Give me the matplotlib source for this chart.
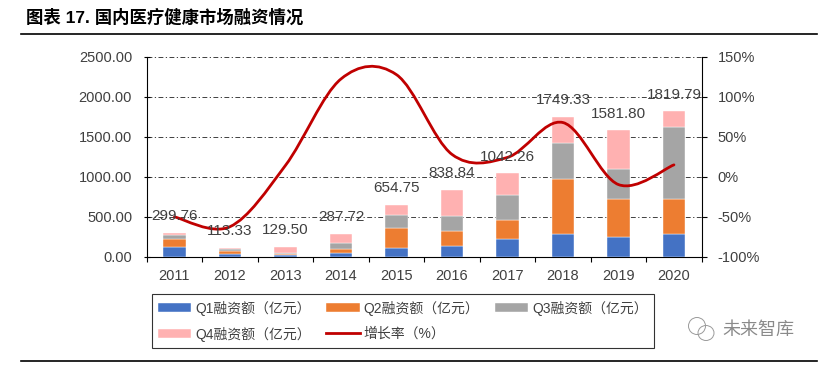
import matplotlib
matplotlib.use("Agg")
import matplotlib.pyplot as plt
import numpy as np
from matplotlib.path import Path
from matplotlib.patches import PathPatch, Ellipse
from matplotlib.lines import Line2D

plt.rcParams['font.family'] = ['Liberation Sans', 'Noto Sans CJK SC', 'DejaVu Sans']

years = ['2011', '2012', '2013', '2014', '2015', '2016', '2017', '2018', '2019', '2020']
q1 = [125, 40, 25, 46, 108, 142, 229, 283, 250, 292]
q2 = [95, 33, 8, 50, 259, 183, 238, 696, 475, 433]
q3 = [58, 25, 13, 83, 162, 183, 308, 450, 379, 892]
totals = [299.76, 113.33, 129.50, 287.72, 654.75, 838.84, 1042.26, 1749.33, 1581.80, 1819.79]
q4 = [round(t - a - b - c, 2) for t, a, b, c in zip(totals, q1, q2, q3)]
growth = [-50.0, -62.2, 14.3, 122.2, 127.6, 28.1, 24.3, 67.8, -9.6, 15.0]

series_names = ['Q1融资额（亿元）', 'Q2融资额（亿元）', 'Q3融资额（亿元）', 'Q4融资额（亿元）']
line_name = '增长率（%）'
colors = ['#4472C4', '#ED7D31', '#A5A5A5', '#FFB1B1']
line_color = '#C00000'
text_color = '#404040'

W, H = 829, 365
fig = plt.figure(figsize=(W / 100, H / 100), dpi=100)

def fx(px):
    return px / W

def fy(py):
    return 1 - py / H

ax = fig.add_axes([fx(146.7), fy(257), fx(701.7) - fx(146.7), fy(56.7) - fy(257)])
x = np.arange(len(years))
bw = 0.41
bottom = np.zeros(len(years))
bars = []
for vals, col, name in zip([q1, q2, q3, q4], colors, series_names):
    b = ax.bar(x, vals, bw, bottom=bottom, color=col, edgecolor='white', linewidth=0.3,
               label=name, zorder=3)
    bars.append(b)
    bottom = bottom + np.array(vals)

ax.set_xlim(-0.5, len(years) - 0.5)
ax.set_ylim(0, 2500)
ax.set_yticks(np.arange(0, 2501, 500))
ax.set_yticklabels([f'{v:.2f}' for v in np.arange(0, 2501, 500)])
ax.grid(axis='y', color='#404040', linewidth=0.7, linestyle=(0, (5, 2.5, 1.3, 2.5)), zorder=1)
ax.set_axisbelow(True)
ax.set_xticks(x)
ax.set_xticklabels(years)
ax.set_xticks(np.arange(-0.5, len(years), 1), minor=True)
ax.tick_params(axis='x', which='major', length=0, pad=9, labelsize=10.5, labelcolor=text_color)
ax.tick_params(axis='x', which='minor', length=3.5, direction='out', width=0.8)
ax.tick_params(axis='y', direction='inout', length=5, width=0.8, pad=8, labelsize=10.5, labelcolor=text_color)
for s in ['top', 'right']:
    ax.spines[s].set_visible(False)
for s in ['left', 'bottom']:
    ax.spines[s].set_linewidth(0.8)

ax2 = ax.twinx()
ax2.set_ylim(-100, 150)
ax2.set_yticks(np.arange(-100, 151, 50))
ax2.set_yticklabels([f'{int(v)}%' for v in np.arange(-100, 151, 50)])
ax2.tick_params(axis='y', direction='out', length=3.5, width=0.8, pad=8, labelsize=10.5, labelcolor=text_color)
for s in ['top', 'left', 'bottom']:
    ax2.spines[s].set_visible(False)
ax2.spines['right'].set_linewidth(0.8)

# smoothed growth line (Bezier through data points)
pts = np.column_stack([x, growth]).astype(float)
n = len(pts)
verts = [tuple(pts[0])]
codes = [Path.MOVETO]
for i in range(n - 1):
    p0 = pts[i - 1] if i > 0 else pts[i]
    p1 = pts[i]
    p2 = pts[i + 1]
    p3 = pts[i + 2] if i + 2 < n else pts[i + 1]
    c1 = p1 + (p2 - p0) / 6.0
    c2 = p2 - (p3 - p1) / 6.0
    verts += [tuple(c1), tuple(c2), tuple(p2)]
    codes += [Path.CURVE4] * 3
patch = PathPatch(Path(verts, codes), facecolor='none', edgecolor=line_color, linewidth=2.0,
                  capstyle='round', zorder=4)
ax2.add_patch(patch)

# total labels
for i, t in enumerate(totals):
    ax2.annotate(f'{t:.2f}', xy=(i, t), xycoords=ax.transData, xytext=(0, 12),
                 textcoords='offset points', ha='center', va='center', fontsize=11,
                 color=text_color, zorder=6)

# legend
line_handle = Line2D([], [], color=line_color, linewidth=2.0)
handles = [bars[0], bars[3], bars[1], line_handle, bars[2]]
labels = [series_names[0], series_names[3], series_names[1], line_name, series_names[2]]
leg = fig.legend(handles, labels, ncol=3, loc='upper left',
                 bbox_to_anchor=(fx(151.7), fy(294.3)), borderaxespad=0,
                 frameon=True, fancybox=False, edgecolor='#000000', fontsize=10,
                 handlelength=2.4, handleheight=0.6, handletextpad=0.3, columnspacing=1.1,
                 labelspacing=0.8, borderpad=0.45)
leg.get_frame().set_linewidth(0.8)
for txt in leg.get_texts():
    txt.set_color(text_color)

# title and rules
fig.text(fx(26.5), fy(17), '图表 17. 国内医疗健康市场融资情况', fontsize=12.5, fontweight='bold',
         ha='left', va='center', color='#000000')
fig.add_artist(Line2D([fx(20.7), fx(816.7)], [fy(34), fy(34)], color='black', linewidth=1.2))
fig.add_artist(Line2D([fx(20.7), fx(816.7)], [fy(361), fy(361)], color='black', linewidth=1.2))

# watermark
fig.add_artist(Ellipse((fx(697), fy(326)), fx(17), 17 / H, fill=False, edgecolor='#9a9a9a', linewidth=0.7))
fig.add_artist(Ellipse((fx(706), fy(333)), fx(16), 15 / H, fill=False, edgecolor='#9a9a9a', linewidth=0.7))
fig.text(fx(722), fy(330), '未来智库', fontsize=13, color='#8a8a8a', ha='left', va='center')

fig.savefig('out.png', dpi=100)
